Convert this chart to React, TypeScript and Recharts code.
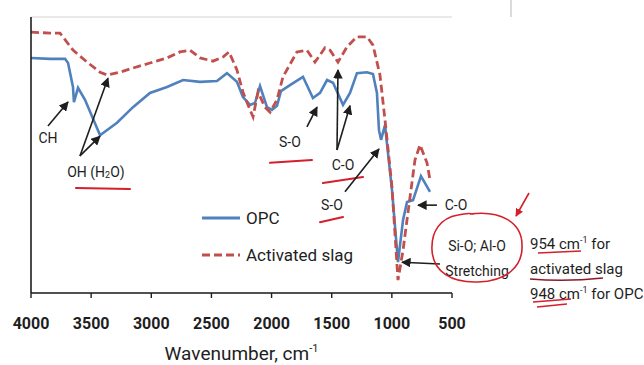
import {
  LineChart, Line, XAxis, YAxis, CartesianGrid, ReferenceLine, ReferenceDot,
} from 'recharts';

// FTIR spectra (wavenumber in cm-1, relative transmittance)
const opcWavenumber = [4000, 3842, 3717, 3692, 3651, 3643, 3609, 3551, 3426, 3285, 3152, 3011, 2869, 2736, 2595, 2454, 2371, 2288, 2238, 2179, 2138, 2096, 2038, 1997, 1955, 1922, 1847, 1739, 1656, 1597, 1539, 1489, 1406, 1348, 1290, 1207, 1157, 1124, 1107, 1090, 1057, 999, 949, 907, 874, 824, 758, 716, 683];
const opcTransmittance = [51.1, 50.9, 50.9, 50.0, 44.8, 41.5, 44.6, 42.0, 34.3, 37.0, 40.4, 43.5, 44.8, 46.3, 45.9, 46.1, 47.8, 45.9, 42.6, 40.9, 41.3, 45.0, 40.4, 39.8, 40.7, 43.9, 45.2, 47.0, 42.4, 43.5, 46.3, 45.7, 40.9, 43.5, 47.8, 48.0, 47.6, 43.5, 35.4, 33.3, 36.5, 22.4, 6.7, 15.9, 19.8, 20.2, 25.4, 23.5, 22.0];

const slagWavenumber = [4000, 3842, 3759, 3651, 3534, 3426, 3368, 3260, 3152, 3011, 2869, 2761, 2678, 2595, 2487, 2404, 2354, 2288, 2238, 2179, 2154, 2113, 2055, 2013, 1955, 1905, 1789, 1706, 1639, 1556, 1514, 1448, 1373, 1290, 1207, 1157, 1099, 1057, 999, 949, 907, 874, 808, 766, 708, 683];
const slagTransmittance = [56.7, 56.5, 56.5, 52.8, 50.2, 48.0, 47.4, 48.0, 48.9, 50.0, 51.1, 52.4, 52.8, 51.1, 50.4, 51.3, 52.4, 48.5, 43.7, 39.8, 38.3, 43.7, 40.4, 39.3, 42.0, 47.0, 52.4, 52.8, 50.2, 53.3, 52.8, 50.2, 53.5, 55.7, 55.7, 53.9, 47.4, 37.6, 23.0, 2.8, 9.3, 15.9, 28.9, 32.2, 28.3, 24.6];

const xTicks = [4000, 3500, 3000, 2500, 2000, 1500, 1000, 500];
const yTicks = [0, 10, 20, 30, 40, 50, 60];

const opcData = opcWavenumber.map((w, i) => ({ w, t: opcTransmittance[i] }));
const slagData = slagWavenumber.map((w, i) => ({ w, t: slagTransmittance[i] }));

const BLUE = '#4f81bd';
const RED = '#c0504d';
const INK = '#1e1e1e';
const PEN = '#d4202c';
const FONT = "'Liberation Sans Narrow', 'Roboto', sans-serif";

// annotation labels [wavenumber, value, text]
const labels: [number, number, any][] = [
  [3859, 33.7, 'CH'],
  [1847, 32.8, 'S-O'],
  [1406, 27.8, 'C-O'],
  [1498, 19.1, 'S-O'],
  [467, 19.1, 'C-O'],
  [292, 10.2, 'Si-O; Al-O'],
  [292, 4.8, 'Stretching'],
];

// black arrows [fromW, fromV, toW, toV]
const arrows = [
  [3859, 36.3, 3692, 41.5],
  [3593, 29.8, 3426, 34.1],
  [3593, 29.8, 3360, 46.7],
  [1706, 36.1, 1622, 40.4],
  [1456, 31.1, 1448, 48.5],
  [1456, 31.1, 1348, 40.7],
  [1390, 22.0, 1107, 31.3],
  [625, 19.1, 783, 19.1],
  [600, 6.3, 916, 6.7],
];

// red pen underlines
const underlines = [
  [3626, 22.8, 3177, 22.6],
  [2013, 28.3, 1664, 28.9],
  [1573, 23.9, 1240, 25.2],
  [1598, 15.4, 1406, 16.5],
];

const textShape = (content: any) => (p: any) => (
  <text x={p.cx} y={p.cy} textAnchor="middle" dominantBaseline="central"
    fontFamily={FONT} fontSize={14} fill={INK}>{content}</text>
);

const arrowShape = (p: any) => (
  <line x1={p.x1} y1={p.y1} x2={p.x2} y2={p.y2} stroke={INK} strokeWidth={1.6} markerEnd="url(#ah)" />
);

const penShape = (p: any) => (
  <line x1={p.x1} y1={p.y1} x2={p.x2} y2={p.y2} stroke={PEN} strokeWidth={2} strokeLinecap="round" />
);

const LegendBox = () => (
  <div style={{ position: 'absolute', left: 202, top: 206, fontFamily: FONT, fontSize: 17, color: INK }}>
    <div style={{ display: 'flex', alignItems: 'center', height: 24 }}>
      <svg width={40} height={6}><line x1={0} y1={3} x2={38} y2={3} stroke={BLUE} strokeWidth={3} /></svg>
      <span style={{ marginLeft: 4 }}>OPC</span>
    </div>
    <div style={{ display: 'flex', alignItems: 'center', height: 24, marginTop: 13 }}>
      <svg width={40} height={6}><line x1={0} y1={3} x2={38} y2={3} stroke={RED} strokeWidth={3} strokeDasharray="8 4" /></svg>
      <span style={{ marginLeft: 4 }}>Activated slag</span>
    </div>
  </div>
);

const AxisTitle = (props: any) => {
  const vb = props.viewBox || { x: 31, y: 293, width: 421 };
  return (
    <text x={vb.x + vb.width / 2} y={vb.y + 67} textAnchor="middle" fontFamily={FONT} fontSize={19} fill={INK}>
      Wavenumber, cm<tspan dy={-8} fontSize={11}>-1</tspan>
    </text>
  );
};

export default function App() {
  return (
    <div style={{ position: 'absolute', left: 0, top: 0, width: 644, height: 365, background: '#fff' }}>
      <LineChart width={644} height={365} margin={{ top: 17, right: 192, left: 30, bottom: 42 }}>
        <defs>
          <marker id="ah" viewBox="0 0 10 10" refX="9" refY="5" markerWidth="6" markerHeight="6" orient="auto">
            <path d="M0,0 L10,5 L0,10 z" fill={INK} />
          </marker>
        </defs>
        <CartesianGrid vertical={false} stroke="#d3d3d3" />
        <XAxis
          type="number" dataKey="w" domain={[500, 4000]} reversed ticks={xTicks}
          allowDataOverflow height={30} tickSize={5} tickMargin={20}
          axisLine={{ stroke: INK, strokeWidth: 1.6 }} tickLine={{ stroke: INK, strokeWidth: 1.4 }}
          tick={{ fontFamily: FONT, fontSize: 16, fontWeight: 'bold', fill: INK }}
          label={{ content: AxisTitle }}
        />
        <YAxis
          type="number" domain={[0, 60]} ticks={yTicks} width={1} tick={false} tickLine={false}
          axisLine={{ stroke: INK, strokeWidth: 1.6 }}
        />
        <Line data={opcData} dataKey="t" name="OPC" type="linear" stroke={BLUE} strokeWidth={2.6}
          dot={false} isAnimationActive={false} />
        <Line data={slagData} dataKey="t" name="Activated slag" type="linear" stroke={RED} strokeWidth={2.8}
          strokeDasharray="8 4" dot={false} isAnimationActive={false} />

        {underlines.map((u, i) => (
          <ReferenceLine key={'u' + i} segment={[{ x: u[0], y: u[1] }, { x: u[2], y: u[3] }]}
            ifOverflow="visible" shape={penShape} />
        ))}
        {arrows.map((a, i) => (
          <ReferenceLine key={'a' + i} segment={[{ x: a[0], y: a[1] }, { x: a[2], y: a[3] }]}
            ifOverflow="visible" shape={arrowShape} />
        ))}
        {labels.map((l, i) => (
          <ReferenceDot key={'l' + i} x={l[0]} y={l[1]} r={0} ifOverflow="visible" shape={textShape(l[2])} />
        ))}
        <ReferenceDot x={3460} y={26.3} r={0} ifOverflow="visible"
          shape={textShape(<>OH (H<tspan fontSize={9} dy={3}>2</tspan><tspan dy={-3}>O)</tspan></>)} />
      </LineChart>

      <LegendBox />

      {/* hand-written notes on the right */}
      <svg width={644} height={365} style={{ position: 'absolute', left: 0, top: 0, pointerEvents: 'none' }}>
        <defs>
          <marker id="rh" viewBox="0 0 10 10" refX="9" refY="5" markerWidth="5" markerHeight="5" orient="auto">
            <path d="M0,0 L10,5 L0,10 z" fill={PEN} />
          </marker>
        </defs>
        <line x1={511} y1={0} x2={511} y2={17} stroke="#cfcfcf" strokeWidth={1.5} />
        <path d="M470,214 C500,210 522,222 522,245 C523,268 505,281 478,282 C452,283 433,272 432,250 C431,232 440,218 458,215 C466,213 470,213 474,214"
          fill="none" stroke={PEN} strokeWidth={1.6} />
        <line x1={529} y1={193} x2={516} y2={216} stroke={PEN} strokeWidth={1.6} markerEnd="url(#rh)" />
        <g fontFamily={FONT} fontSize={15} fill={INK}>
          <text x={530} y={249}>954 cm<tspan dy={-6} fontSize={9}>-1</tspan><tspan dy={6}> for</tspan></text>
          <text x={530} y={274}>activated slag</text>
          <text x={530} y={299}>948 cm<tspan dy={-6} fontSize={9}>-1</tspan><tspan dy={6}>  for OPC</tspan></text>
        </g>
        <path d="M538,253 L581,251" stroke={PEN} strokeWidth={1.5} fill="none" />
        <path d="M530,279 Q566,282 603,278" stroke="#8b1a2a" strokeWidth={1.5} fill="none" />
        <path d="M533,302 L571,299 M537,307 L567,304" stroke={PEN} strokeWidth={1.5} fill="none" />
      </svg>
    </div>
  );
}
